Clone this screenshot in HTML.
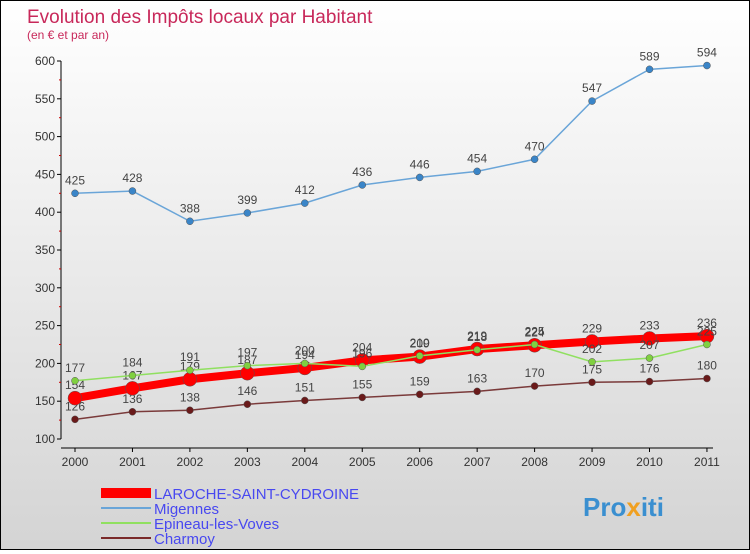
<!DOCTYPE html>
<html><head><meta charset="utf-8"><style>
body{margin:0;width:750px;height:550px;overflow:hidden;font-family:"Liberation Sans",sans-serif}
#w{position:absolute;left:0;top:0;width:748px;height:548px;border:1px solid #000;background:linear-gradient(#fff,#d4d4d4)}
</style></head><body>
<div id="w">
<svg id="s" width="748" height="548">
<text x="26" y="22" font-size="19" fill="#c8285a">Evolution des Impôts locaux par Habitant</text>
<text x="26" y="38" font-size="12" fill="#c8285a">(en € et par an)</text>
<g id="ax"></g><g id="ser"></g>
<g font-size="15">
<rect x="100" y="487" width="50" height="10" fill="#f00"/>
<text x="153" y="498" fill="#4848f0">LAROCHE-SAINT-CYDROINE</text>
<line x1="100" y1="507" x2="150" y2="507" stroke="#6aa5d8" stroke-width="2"/>
<text x="153" y="513" fill="#4848f0">Migennes</text>
<line x1="100" y1="522" x2="150" y2="522" stroke="#90e060" stroke-width="2"/>
<text x="153" y="528" fill="#4848f0">Epineau-les-Voves</text>
<line x1="100" y1="537" x2="150" y2="537" stroke="#7a2a2a" stroke-width="2"/>
<text x="153" y="543" fill="#4848f0">Charmoy</text>
</g>
<text x="582" y="515" font-size="26" font-weight="bold" fill="#3a8fd0">Pro<tspan fill="#f0a020">x</tspan>iti</text>
</svg></div>
<script>
const years=[2000,2001,2002,2003,2004,2005,2006,2007,2008,2009,2010,2011];
const yTicks=[100,150,200,250,300,350,400,450,500,550,600];
const laroche=[154,167,179,187,194,204,209,219,224,229,233,236];
const migennes=[425,428,388,399,412,436,446,454,470,547,589,594];
const epineau=[177,184,191,197,200,196,210,218,225,202,207,225];
const charmoy=[126,136,138,146,151,155,159,163,170,175,176,180];
const NS="http://www.w3.org/2000/svg";
const X=i=>74+i*57.45, Y=v=>438-(v-100)*0.756;
function mk(p,t,a){const e=document.createElementNS(NS,t);for(const k in a)e.setAttribute(k,a[k]);p.appendChild(e);return e;}
const ax=document.getElementById('ax'),ser=document.getElementById('ser');
let l=mk(ax,'line',{x1:60,y1:Y(600),x2:60,y2:Y(100),stroke:'#000'});


l=mk(ax,'line',{x1:60,y1:447,x2:712,y2:447,stroke:'#000'});


yTicks.forEach(v=>{
 const t=mk(ax,'text',{x:54,y:Y(v)+4,'font-size':12,'text-anchor':'end',fill:'#333'});t.textContent=v;
 
 
 mk(ax,'line',{x1:56,y1:Y(v),x2:60,y2:Y(v),stroke:'#000'});
 if(v<600)mk(ax,'line',{x1:58,y1:Y(v+25),x2:60,y2:Y(v+25),stroke:'#c00'});
});
years.forEach((y,i)=>{
 mk(ax,'line',{x1:X(i),y1:447,x2:X(i),y2:451,stroke:'#000'});
 const t=mk(ax,'text',{x:X(i),y:465,'font-size':12,'text-anchor':'middle',fill:'#333'});t.textContent=y;
 
 
});
function series(d,name,col,w,r,dot){
 const g=mk(ser,'g',{});
 
 
 const p=mk(g,'polyline',{points:d.map((v,i)=>X(i)+','+Y(v)).join(' '),fill:'none',stroke:col,'stroke-width':w});
 
 
 d.forEach((v,i)=>{
  const c=mk(g,'circle',{cx:X(i),cy:Y(v),r:r,fill:dot,stroke:'#555','stroke-width':0.5});
  
  
  const t=mk(g,'text',{x:X(i),y:Y(v)-9,'font-size':12,'text-anchor':'middle',fill:'#444'});t.textContent=v;
  
  
 });
}
series(migennes,'migennes','#6aa5d8',1.5,3.5,'#3a85c8');
series(charmoy,'charmoy','#7a3a3a',1.5,3.5,'#6a1a1a');
series(laroche,'laroche','#f00',8,7,'#f00');
series(epineau,'epineau','#90e060',1.5,3.5,'#80d040');
</script>
</body></html>
